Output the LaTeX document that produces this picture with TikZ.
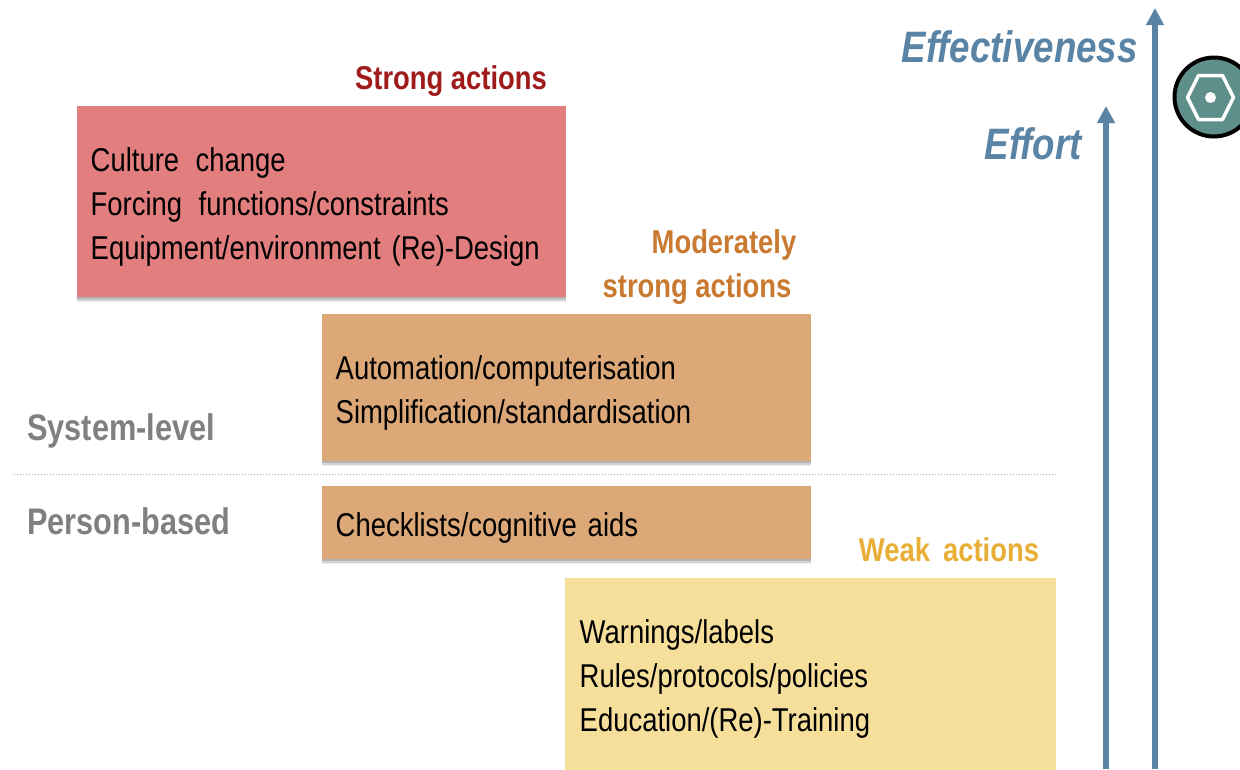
\documentclass[tikz,border=0pt]{standalone}
\usepackage{fontspec}
\setmainfont{Liberation Sans}
\newfontfamily\narrowfont[FakeStretch=0.832]{Liberation Sans}
\newfontfamily\narrowbold[FakeStretch=0.83]{Liberation Sans Bold}
\newfontfamily\narrowboldit[FakeStretch=0.835]{Liberation Sans Bold Italic}
\usetikzlibrary{shadows,arrows.meta,calc}
\definecolor{cStrong}{HTML}{E27E7E}
\definecolor{cMod}{HTML}{DCA878}
\definecolor{cWeak}{HTML}{F6DF9A}
\definecolor{tStrong}{HTML}{A01C1C}
\definecolor{tMod}{HTML}{C97A30}
\definecolor{tWeak}{HTML}{E8AE35}
\definecolor{tBlue}{HTML}{5A84A6}
\definecolor{tGrey}{HTML}{808080}
\definecolor{cTeal}{HTML}{5F8F8A}
\newcommand{\pushdown}{\rule{0pt}{34pt}}
\tikzset{
  softshadow/.style={
    drop shadow={shadow xshift=0pt,shadow yshift=-5pt,fill=black,opacity=.07},
    drop shadow={shadow xshift=0pt,shadow yshift=-3.5pt,fill=black,opacity=.1},
    drop shadow={shadow xshift=0pt,shadow yshift=-2pt,fill=black,opacity=.15}},
  actionbox/.style={anchor=north west,inner xsep=13.5pt,inner ysep=0pt,align=left,text=black,
    font=\fontsize{33}{44}\selectfont\narrowfont,softshadow},
  headlabel/.style={font=\fontsize{33}{44}\selectfont\narrowbold,inner sep=0pt,align=center},
  sidelabel/.style={font=\fontsize{37}{44}\selectfont\narrowbold,text=tGrey,anchor=west,inner sep=0pt},
  axislabel/.style={font=\fontsize{44}{50}\selectfont\narrowboldit,text=tBlue,anchor=east,inner sep=0pt},
  axisarrow/.style={draw=tBlue,line width=6pt,-{Triangle[length=17pt,width=17pt]}},
}
\begin{document}
\begin{tikzpicture}[x=1pt,y=-1pt]
\useasboundingbox (0,0) rectangle (1240,769);
\clip (0,0) rectangle (1240,769);
\fill[white] (0,0) rectangle (1240,769);
\node[actionbox,fill=cStrong,text width=462pt,minimum height=191pt] (strong) at (77,106)
  {\pushdown Culture\, change\\Forcing\, functions/constraints\\Equipment/environment (Re)-Design};
\node[actionbox,fill=cMod,text width=462pt,minimum height=147pt] (modA) at (322,314)
  {\pushdown Automation/computerisation\\Simplification/standardisation};
\node[actionbox,fill=cMod,text width=462pt,minimum height=73pt] (modB) at (322,486)
  {\pushdown Checklists/cognitive aids};
\node[actionbox,fill=cWeak,inner xsep=14.5pt,text width=462pt,minimum height=192pt] (weak) at (565,578)
  {\pushdown Warnings/labels\\Rules/protocols/policies\\Education/(Re)-Training};
\node[headlabel,text=tStrong] (lstrong) at (451,81) {Strong actions};
\node[headlabel,text=tMod] (lmod) at (697,267) {\hspace*{54pt}Moderately\\strong actions};
\node[headlabel,text=tWeak] (lweak) at (949,550) {Weak\, actions};
\node[sidelabel] (sys) at (27,431) {System-level};
\node[sidelabel] (per) at (27,521) {Person-based};
\coordinate (divL) at (14,474);
\coordinate (divR) at (1056,474);
\draw[gray!70,line width=1pt,dotted] (divL) -- (divR);
\node[axislabel] (eff) at (1138,47) {Effectiveness};
\node[axislabel] (effort) at (1082,144) {Effort};
\coordinate (a1s) at (1106,769);
\coordinate (a1e) at (1106,106);
\coordinate (a2s) at (1155,769);
\coordinate (a2e) at (1155,8);
\draw[axisarrow] (a1s) -- (a1e);
\draw[axisarrow] (a2s) -- (a2e);
\node[circle,fill=cTeal,draw=black,line width=4pt,minimum size=79pt,inner sep=0pt] (badge) at (1214,97) {};
\coordinate (hexc) at (1210.5,97.5);
\draw[white,line width=3.5pt,line join=round]
  ($(hexc)+(-23,0)$) -- ($(hexc)+(-12,-22)$) -- ($(hexc)+(12,-22)$) -- ($(hexc)+(23,0)$) -- ($(hexc)+(12,22)$) -- ($(hexc)+(-12,22)$) -- cycle;
\fill[white] (hexc) circle (5.5pt);
\end{tikzpicture}
\end{document}
